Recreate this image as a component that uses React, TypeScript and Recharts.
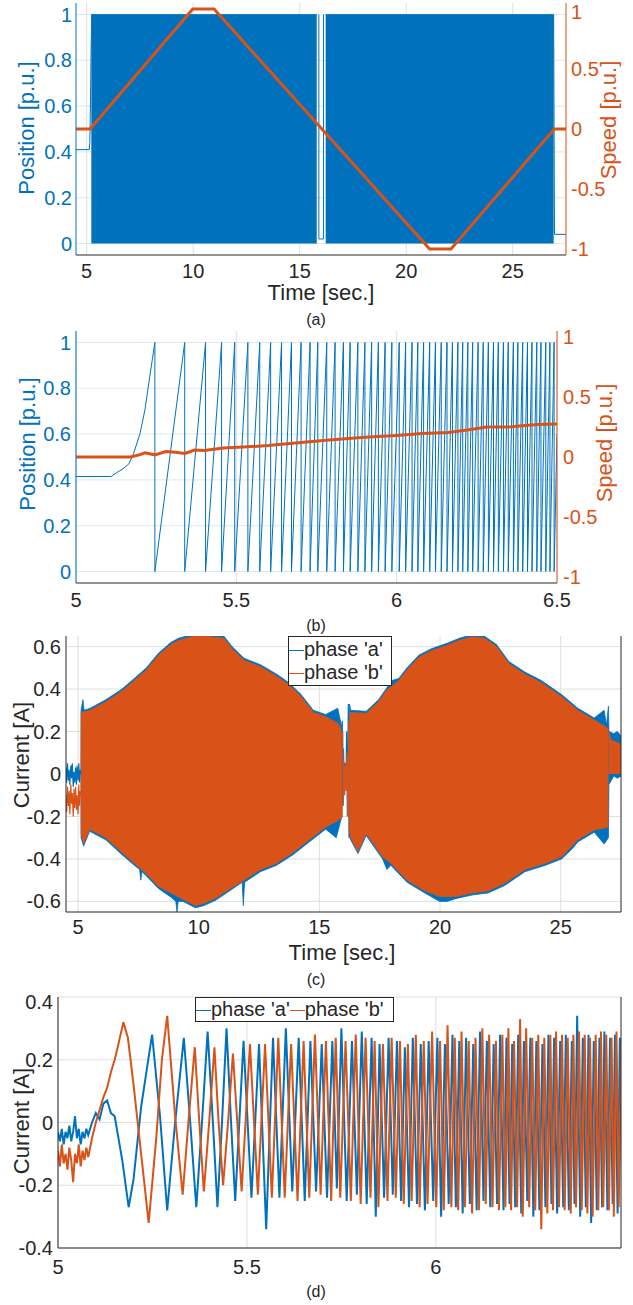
import React from 'react';
import { ComposedChart, Line, Area, XAxis, YAxis, CartesianGrid } from 'recharts';

type Pt = [number, number];

const BLUE = '#0072BD';
const ORANGE = '#D95319';
const INK = '#262626';
const GRID = '#dfdfdf';
const GRID_BLUE = '#d9eaf5';
const FONT = '"Liberation Sans", Arial, Helvetica, sans-serif';

// ticks
const timeTicks = [5, 10, 15, 20, 25];
const zoomTicksB = [5, 5.5, 6, 6.5];
const zoomTicksD = [5, 5.5, 6];
const posTicks = [0, 0.2, 0.4, 0.6, 0.8, 1];
const speedTicks = [-1, -0.5, 0, 0.5, 1];
const curTicksC = [-0.6, -0.4, -0.2, 0, 0.2, 0.4, 0.6];
const curTicksD = [-0.4, -0.2, 0, 0.2, 0.4];

// (a) whole run: speed reference and position (band = fast sawtooth 0..1)
const aSpeed: Pt[] = [[4.5, 0], [5.16, 0], [9.98, 1], [10.98, 1], [16.04, 0], [21.1, -1], [22.1, -1], [26.95, 0], [27.5, 0]];
const aPosPre: Pt[] = [[4.5, 0.41], [5.12, 0.41], [5.15, 0.44], [5.18, 0.62], [5.21, 0.85], [5.24, 1]];
const aBand1: Pt[] = [[5.22, 1], [15.8, 1]];
const aGap: Pt[] = [[15.9, 1], [15.9, 0.02], [16.12, 0.02], [16.12, 1]];
const aBand2: Pt[] = [[16.22, 1], [26.92, 1]];
const aPosPost: Pt[] = [[26.92, 1], [26.96, 0.04], [27.5, 0.04]];

// (b) start-up zoom
const bPosPre: Pt[] = [[5.0, 0.415], [5.11, 0.415], [5.125, 0.43], [5.145, 0.447], [5.165, 0.47], [5.18, 0.517], [5.2, 0.604], [5.215, 0.706], [5.23, 0.851], [5.246, 1]];
const bDropT = [5.246, 5.339, 5.404, 5.454, 5.495, 5.536, 5.573, 5.607, 5.641, 5.672, 5.702, 5.73, 5.754, 5.782, 5.808, 5.834, 5.855, 5.879, 5.901, 5.922, 5.943, 5.964, 5.985, 6.008, 6.028, 6.048, 6.066, 6.084, 6.103, 6.121, 6.139, 6.157, 6.174, 6.191, 6.206, 6.222, 6.237, 6.254, 6.27, 6.286, 6.302, 6.317, 6.333, 6.348, 6.364, 6.378, 6.393, 6.408, 6.422, 6.437, 6.45, 6.465, 6.478, 6.491];
const bPosEnd: Pt[] = [[6.5, 0.6]];
const bSpeed: Pt[] = [[5.0, 0], [5.17, 0], [5.2, 0.02], [5.215, 0.035], [5.246, 0.018], [5.28, 0.045], [5.31, 0.04], [5.34, 0.03], [5.37, 0.058], [5.4, 0.055], [5.46, 0.075], [5.52, 0.083], [5.6, 0.095], [5.65, 0.108], [5.72, 0.125], [5.78, 0.14], [5.85, 0.155], [5.9, 0.165], [6.0, 0.18], [6.08, 0.195], [6.16, 0.205], [6.22, 0.225], [6.28, 0.25], [6.35, 0.25], [6.4, 0.262], [6.44, 0.27], [6.5, 0.275]];

// (c) phase currents, whole run (envelopes)
const cAPre: Pt[] = [[4.5, 0.03], [4.53, -0.04], [4.56, 0.05], [4.6, -0.03], [4.63, 0.02], [4.66, -0.05], [4.7, 0.04], [4.73, -0.02], [4.76, 0.05], [4.8, -0.06], [4.83, 0.01], [4.86, -0.04], [4.9, 0.03], [4.93, -0.05], [4.96, 0.04], [5.0, -0.03], [5.03, 0.05], [5.06, -0.04], [5.09, 0.02], [5.12, 0.0]];
const cAU1: Pt[] = [[5.12, 0], [5.125, 0.3], [5.2, 0.35], [5.25, 0.3], [5.5, 0.31], [6.15, 0.35], [6.82, 0.4], [7.33, 0.45], [7.83, 0.5], [8.34, 0.57], [8.85, 0.62], [9.18, 0.64], [9.69, 0.655], [10.2, 0.665], [10.53, 0.655], [11.04, 0.65], [11.38, 0.6], [11.88, 0.545], [12.56, 0.515], [13.23, 0.47], [13.74, 0.43], [14.24, 0.375], [14.75, 0.3], [15.26, 0.28], [15.6, 0.3], [15.76, 0.31], [15.93, 0.22]];
const cAL1: Pt[] = [[5.12, 0], [5.125, -0.3], [5.23, -0.34], [5.48, -0.27], [6.15, -0.31], [6.82, -0.38], [7.33, -0.43], [7.55, -0.45], [7.6, -0.5], [7.65, -0.46], [7.83, -0.48], [8.34, -0.54], [8.85, -0.58], [9.05, -0.6], [9.1, -0.65], [9.15, -0.6], [9.35, -0.6], [9.86, -0.63], [10.2, -0.62], [10.7, -0.595], [11.21, -0.556], [11.8, -0.51], [11.85, -0.62], [11.9, -0.51], [12.56, -0.46], [13.23, -0.43], [13.91, -0.38], [14.58, -0.32], [15.26, -0.26], [15.7, -0.3], [15.93, -0.2]];
const cAPinch: Pt[] = [[15.93, 0.2], [15.95, 0.25], [15.97, -0.15], [16.0, 0.12], [16.03, -0.1], [16.06, 0.05], [16.1, -0.05], [16.13, 0.2], [16.16, -0.2], [16.2, 0.33], [16.23, -0.3]];
const cAU2: Pt[] = [[16.24, 0], [16.25, 0.33], [16.3, 0.3], [16.94, 0.295], [17.45, 0.35], [17.79, 0.405], [18.0, 0.44], [18.29, 0.45], [18.63, 0.5], [19.13, 0.56], [19.64, 0.59], [20.32, 0.617], [20.82, 0.64], [21.33, 0.656], [21.83, 0.65], [22.34, 0.61], [22.85, 0.53], [23.52, 0.48], [24.2, 0.44], [25.04, 0.374], [25.71, 0.31], [26.39, 0.264], [26.8, 0.3], [26.9, 0.23], [26.98, 0.32], [27.0, 0.2]];
const cAL2: Pt[] = [[16.24, 0], [16.25, -0.3], [16.6, -0.375], [16.94, -0.29], [17.62, -0.4], [17.8, -0.45], [17.96, -0.43], [18.63, -0.51], [19.3, -0.556], [19.98, -0.6], [20.3, -0.6], [20.65, -0.587], [21.33, -0.57], [22.0, -0.56], [22.68, -0.525], [23.52, -0.46], [24.37, -0.43], [25.04, -0.4], [25.5, -0.35], [25.71, -0.32], [26.39, -0.274], [26.8, -0.33], [26.98, -0.3], [27.0, -0.05]];
const cAUp: Pt[] = [[27.0, 0.2], [27.2, 0.19], [27.35, 0.2], [27.5, 0.18]];
const cALp: Pt[] = [[27.0, -0.05], [27.2, -0.01], [27.35, -0.02], [27.5, -0.01]];

const cBPre: Pt[] = [[4.5, -0.1], [4.53, -0.18], [4.56, -0.06], [4.6, -0.15], [4.63, -0.08], [4.66, -0.19], [4.7, -0.05], [4.73, -0.14], [4.76, -0.09], [4.8, -0.2], [4.83, -0.07], [4.86, -0.16], [4.9, -0.06], [4.93, -0.17], [4.96, -0.1], [5.0, -0.19], [5.03, -0.05], [5.06, -0.15], [5.09, -0.08], [5.12, -0.1]];
const cBU1: Pt[] = [[5.12, 0], [5.13, 0.29], [5.5, 0.3], [6.15, 0.34], [6.82, 0.39], [7.33, 0.44], [7.83, 0.49], [8.34, 0.56], [8.85, 0.61], [9.18, 0.63], [9.69, 0.645], [10.2, 0.655], [10.53, 0.645], [11.04, 0.64], [11.38, 0.59], [11.88, 0.535], [12.56, 0.505], [13.23, 0.46], [13.74, 0.42], [14.24, 0.365], [14.75, 0.29], [15.26, 0.27], [15.76, 0.24], [15.97, 0.2]];
const cBL1: Pt[] = [[5.12, 0], [5.13, -0.28], [5.23, -0.33], [5.48, -0.26], [6.15, -0.3], [6.82, -0.37], [7.33, -0.42], [7.83, -0.47], [8.34, -0.53], [8.85, -0.56], [9.35, -0.59], [9.86, -0.62], [10.2, -0.61], [10.7, -0.585], [11.21, -0.546], [11.88, -0.5], [12.56, -0.45], [13.23, -0.42], [13.91, -0.37], [14.58, -0.31], [15.26, -0.25], [15.76, -0.22], [15.97, -0.2]];
const cBPinch: Pt[] = [[15.97, 0.2], [15.99, -0.15], [16.02, 0.06], [16.05, -0.1], [16.08, 0.04], [16.11, -0.08], [16.14, 0.1], [16.18, -0.2], [16.22, 0.25], [16.24, -0.28]];
const cBU2: Pt[] = [[16.24, 0], [16.27, 0.29], [16.94, 0.285], [17.45, 0.34], [17.79, 0.395], [18.29, 0.44], [18.63, 0.49], [19.13, 0.55], [19.64, 0.58], [20.32, 0.607], [20.82, 0.63], [21.33, 0.646], [21.83, 0.64], [22.34, 0.6], [22.85, 0.52], [23.52, 0.47], [24.2, 0.43], [25.04, 0.364], [25.71, 0.3], [26.39, 0.254], [26.9, 0.22], [26.98, 0.207]];
const cBL2: Pt[] = [[16.24, 0], [16.27, -0.295], [16.6, -0.365], [16.94, -0.28], [17.62, -0.39], [17.96, -0.42], [18.63, -0.5], [19.3, -0.546], [19.98, -0.577], [20.65, -0.577], [21.33, -0.56], [22.0, -0.55], [22.68, -0.515], [23.52, -0.45], [24.37, -0.42], [25.04, -0.39], [25.71, -0.31], [26.39, -0.264], [26.98, -0.25]];
const cBUp: Pt[] = [[26.99, 0.2], [27.1, 0.16], [27.3, 0.15], [27.5, 0.14]];

// (d) phase currents, start-up zoom (peaks and troughs)
const dPhaseA: Pt[] = [
  [5.0, -0.03], [5.005, -0.06], [5.01, -0.02], [5.015, -0.07], [5.02, -0.03], [5.025, -0.05], [5.03, -0.01], [5.035, -0.06], [5.04, -0.03], [5.045, 0.02],
  [5.05, -0.05], [5.055, -0.02], [5.06, -0.07], [5.065, -0.03], [5.07, -0.05], [5.075, -0.02], [5.08, -0.04],
  [5.09, 0.0], [5.1, 0.03], [5.11, 0.01], [5.12, 0.06], [5.13, 0.07], [5.14, 0.03], [5.15, 0.02], [5.16, -0.05], [5.17, -0.12], [5.187, -0.27],
  [5.2, -0.18], [5.22, 0.05], [5.249, 0.28], [5.27, 0.02], [5.289, -0.28], [5.31, 0.0], [5.333, 0.27], [5.35, 0.0], [5.366, -0.27], [5.381, 0.0],
  [5.396, 0.29], [5.41, 0.0], [5.422, -0.27], [5.434, 0.0], [5.446, 0.3], [5.458, 0.0], [5.469, -0.25], [5.491, 0.26], [5.512, -0.24],
  [5.532, 0.25], [5.551, -0.34], [5.569, 0.27], [5.586, -0.24], [5.603, 0.3], [5.62, -0.22], [5.637, 0.27], [5.653, -0.25], [5.668, 0.26], [5.683, -0.22],
  [5.698, 0.25], [5.712, -0.24], [5.726, 0.26], [5.738, -0.21], [5.75, 0.3], [5.764, -0.25], [5.778, 0.26], [5.791, -0.23], [5.804, 0.29], [5.817, -0.26],
  [5.83, 0.27], [5.841, -0.3], [5.851, 0.25], [5.863, -0.24], [5.875, 0.27], [5.886, -0.23], [5.897, 0.26], [5.908, -0.25], [5.918, 0.24], [5.929, -0.27],
  [5.939, 0.27], [5.95, -0.26], [5.96, 0.25], [5.971, -0.28], [5.981, 0.26], [5.993, -0.25], [6.004, 0.27], [6.014, -0.3], [6.024, 0.25], [6.034, -0.26],
  [6.044, 0.28], [6.053, -0.27], [6.062, 0.26], [6.071, -0.29], [6.08, 0.27], [6.09, -0.26], [6.099, 0.25], [6.108, -0.28], [6.117, 0.29], [6.126, -0.25],
  [6.135, 0.26], [6.144, -0.27], [6.153, 0.25], [6.162, -0.26], [6.17, 0.28], [6.179, -0.28], [6.187, 0.27], [6.195, -0.26], [6.202, 0.25], [6.21, -0.27],
  [6.218, 0.28], [6.226, -0.29], [6.233, 0.26], [6.242, -0.25], [6.25, 0.27], [6.258, -0.3], [6.266, 0.26], [6.274, -0.28], [6.282, 0.25], [6.29, -0.27],
  [6.298, 0.28], [6.306, -0.26], [6.313, 0.27], [6.321, -0.29], [6.329, 0.26], [6.337, -0.27], [6.344, 0.28], [6.352, -0.28], [6.36, 0.26], [6.367, -0.26],
  [6.374, 0.34], [6.382, -0.3], [6.389, 0.27], [6.397, -0.27], [6.404, 0.28], [6.411, -0.32], [6.418, 0.26], [6.426, -0.28], [6.433, 0.27], [6.44, -0.27],
  [6.446, 0.29], [6.454, -0.28], [6.461, 0.27], [6.468, -0.26], [6.474, 0.28], [6.481, -0.29], [6.487, 0.27], [6.494, -0.26],
];
const dPhaseB: Pt[] = [
  [5.0, -0.09], [5.005, -0.14], [5.01, -0.07], [5.015, -0.13], [5.02, -0.1], [5.025, -0.15], [5.03, -0.08], [5.035, -0.12], [5.04, -0.19], [5.045, -0.1],
  [5.05, -0.13], [5.055, -0.07], [5.06, -0.14], [5.065, -0.09], [5.07, -0.12], [5.075, -0.08], [5.08, -0.11],
  [5.09, -0.05], [5.1, 0.0], [5.11, 0.04], [5.12, 0.08], [5.13, 0.11], [5.14, 0.16], [5.15, 0.2], [5.16, 0.25], [5.173, 0.32], [5.185, 0.27],
  [5.2, 0.12], [5.22, -0.1], [5.24, -0.32], [5.26, -0.05], [5.275, 0.2], [5.289, 0.34], [5.31, 0.02], [5.33, -0.23], [5.345, 0.0], [5.362, 0.24],
  [5.374, 0.0], [5.386, -0.22], [5.4, 0.0], [5.414, 0.24], [5.425, 0.0], [5.437, -0.2], [5.45, 0.0], [5.463, 0.22], [5.486, -0.22], [5.508, 0.25],
  [5.529, -0.23], [5.548, 0.25], [5.566, -0.24], [5.583, 0.27], [5.6, -0.24], [5.617, 0.25], [5.634, -0.25], [5.65, 0.26], [5.665, -0.24], [5.68, 0.28],
  [5.695, -0.23], [5.709, 0.26], [5.723, -0.25], [5.735, 0.27], [5.747, -0.24], [5.761, 0.26], [5.775, -0.25], [5.788, 0.28], [5.801, -0.26], [5.814, 0.27],
  [5.827, -0.24], [5.838, 0.26], [5.848, -0.27], [5.86, 0.25], [5.872, -0.25], [5.883, 0.27], [5.894, -0.24], [5.905, 0.26], [5.915, -0.26], [5.926, 0.25],
  [5.936, -0.25], [5.947, 0.28], [5.957, -0.27], [5.968, 0.26], [5.978, -0.26], [5.99, 0.29], [6.001, -0.27], [6.011, 0.26], [6.021, -0.28], [6.031, 0.31],
  [6.041, -0.27], [6.05, 0.27], [6.059, -0.28], [6.068, 0.29], [6.077, -0.27], [6.087, 0.26], [6.096, -0.29], [6.105, 0.27], [6.114, -0.28], [6.123, 0.3],
  [6.132, -0.26], [6.141, 0.28], [6.15, -0.27], [6.159, 0.26], [6.167, -0.28], [6.176, 0.28], [6.184, -0.27], [6.192, 0.3], [6.199, -0.28], [6.207, 0.26],
  [6.215, -0.27], [6.223, 0.33], [6.23, -0.3], [6.239, 0.3], [6.247, -0.27], [6.255, 0.27], [6.263, -0.28], [6.271, 0.28], [6.279, -0.34], [6.287, 0.27],
  [6.295, -0.29], [6.303, 0.28], [6.31, -0.28], [6.318, 0.29], [6.326, -0.27], [6.334, 0.28], [6.341, -0.28], [6.349, 0.27], [6.357, -0.29], [6.364, 0.28],
  [6.371, -0.27], [6.379, 0.29], [6.386, -0.28], [6.394, 0.28], [6.401, -0.29], [6.408, 0.27], [6.415, -0.3], [6.423, 0.28], [6.43, -0.28], [6.437, 0.29],
  [6.443, -0.27], [6.451, 0.28], [6.458, -0.28], [6.465, 0.27], [6.471, -0.3], [6.478, 0.29], [6.484, -0.27], [6.491, 0.26], [6.5, -0.1],
];

type Row = { t: number; [k: string]: number };
const pairs = (key: string, pts: Pt[]): Row[] => pts.map(([t, v]) => ({ t, [key]: v }));
const merge = (...parts: Row[][]): Row[] => parts.flat().sort((p, q) => p.t - q.t);

// sawtooth built from the read drop times
const bPos: Pt[] = [...bPosPre, ...bDropT.flatMap((t): Pt[] => [[t, 1], [t, 0]]), ...bPosEnd];

const aData = merge(
  pairs('spd', aSpeed), pairs('pre', aPosPre), pairs('band1', aBand1),
  pairs('gap', aGap), pairs('band2', aBand2), pairs('post', aPosPost),
);
const bData = merge(pairs('pos', bPos), pairs('spd', bSpeed));
const cData = merge(
  pairs('aPre', cAPre), pairs('aU1', cAU1), pairs('aL1', cAL1), pairs('aPinch', cAPinch),
  pairs('aU2', cAU2), pairs('aL2', cAL2), pairs('aUp', cAUp), pairs('aLp', cALp),
  pairs('bPre', cBPre), pairs('bU1', cBU1), pairs('bL1', cBL1), pairs('bPinch', cBPinch),
  pairs('bU2', cBU2), pairs('bL2', cBL2), pairs('bUp', cBUp),
);
const dData = merge(pairs('a', dPhaseA), pairs('b', dPhaseB));

const tickStyle = (fill: string) => ({ fill, fontSize: 20, fontFamily: FONT });

const Txt = ({ x, y, size, color = INK, rot = false, children }: any) => (
  <div
    style={{
      position: 'absolute', left: x, top: y, fontFamily: FONT, fontSize: size, color,
      whiteSpace: 'nowrap', lineHeight: 1,
      transform: `translate(-50%, -50%)${rot ? ' rotate(-90deg)' : ''}`,
    }}
  >
    {children}
  </div>
);

const Swatch = ({ color }: { color: string }) => (
  <span style={{ display: 'inline-block', width: 15, height: 0, borderTop: `1.5px solid ${color}`, verticalAlign: 'middle' }} />
);

const band = (key: string, color: string, yAxisId: any = 0) => (
  <Area
    key={key}
    yAxisId={yAxisId}
    type="linear"
    dataKey={key}
    baseValue={0}
    stroke={color}
    strokeWidth={0.8}
    fill={color}
    fillOpacity={1}
    connectNulls
    dot={false}
    activeDot={false}
    isAnimationActive={false}
  />
);

const line = (key: string, color: string, width: number, yAxisId: any = 0) => (
  <Line
    key={key}
    yAxisId={yAxisId}
    type="linear"
    dataKey={key}
    stroke={color}
    strokeWidth={width}
    connectNulls
    dot={false}
    activeDot={false}
    isAnimationActive={false}
  />
);

export default function App() {
  return (
    <div style={{ position: 'absolute', left: 0, top: 0, width: 633, height: 1305, background: '#fff', overflow: 'hidden' }}>
      {/* (a) */}
      <div style={{ position: 'absolute', left: 0, top: 0 }}>
        <ComposedChart width={633} height={300} data={aData} margin={{ top: 3, right: 0, bottom: 0, left: 0 }}>
          <CartesianGrid yAxisId="L" vertical={false} stroke={GRID_BLUE} horizontalValues={posTicks} />
          <CartesianGrid yAxisId="L" horizontal={false} stroke={GRID} verticalValues={timeTicks} />
          <XAxis dataKey="t" type="number" domain={[4.5, 27.5]} ticks={timeTicks} allowDataOverflow height={45}
            tickSize={0} tickMargin={9} stroke={INK} tick={tickStyle(INK)} />
          <XAxis xAxisId="top" orientation="top" dataKey="t" type="number" domain={[4.5, 27.5]} allowDataOverflow height={0} tick={false} stroke={INK} />
          <YAxis yAxisId="L" type="number" domain={[-0.05, 1.05]} ticks={posTicks} allowDataOverflow width={76}
            tickSize={0} tickMargin={4} stroke={BLUE} tick={tickStyle(BLUE)} />
          <YAxis yAxisId="R" orientation="right" type="number" domain={[-1.05, 1.05]} ticks={speedTicks} allowDataOverflow width={67}
            tickSize={0} tickMargin={5} stroke={ORANGE} tick={tickStyle(ORANGE)} />
          {band('band1', BLUE, 'L')}
          {band('band2', BLUE, 'L')}
          {line('gap', BLUE, 1, 'L')}
          {line('pre', BLUE, 1, 'L')}
          {line('post', BLUE, 1, 'L')}
          {line('spd', ORANGE, 3, 'R')}
        </ComposedChart>
      </div>
      <Txt x={27} y={128} size={22} color={BLUE} rot>Position [p.u.]</Txt>
      <Txt x={609} y={120} size={22} color={ORANGE} rot>Speed [p.u.]</Txt>
      <Txt x={321} y={293} size={22}>Time [sec.]</Txt>
      <Txt x={316} y={320} size={16}>(a)</Txt>

      {/* (b) */}
      <div style={{ position: 'absolute', left: 0, top: 320 }}>
        <ComposedChart width={633} height={300} data={bData} margin={{ top: 11, right: 0, bottom: 0, left: 0 }}>
          <CartesianGrid yAxisId="L" vertical={false} stroke={GRID_BLUE} horizontalValues={posTicks} />
          <CartesianGrid yAxisId="L" horizontal={false} stroke={GRID} verticalValues={zoomTicksB} />
          <XAxis dataKey="t" type="number" domain={[5, 6.5]} ticks={zoomTicksB} allowDataOverflow height={37}
            tickSize={0} tickMargin={10} stroke={INK} tick={tickStyle(INK)} />
          <XAxis xAxisId="top" orientation="top" dataKey="t" type="number" domain={[5, 6.5]} allowDataOverflow height={0} tick={false} stroke={INK} />
          <YAxis yAxisId="L" type="number" domain={[-0.05, 1.05]} ticks={posTicks} allowDataOverflow width={76}
            tickSize={0} tickMargin={5} stroke={BLUE} tick={tickStyle(BLUE)} />
          <YAxis yAxisId="R" orientation="right" type="number" domain={[-1.05, 1.05]} ticks={speedTicks} allowDataOverflow width={76}
            tickSize={0} tickMargin={6} stroke={ORANGE} tick={tickStyle(ORANGE)} />
          {line('pos', BLUE, 1, 'L')}
          {line('spd', ORANGE, 3, 'R')}
        </ComposedChart>
      </div>
      <Txt x={28} y={444} size={22} color={BLUE} rot>Position [p.u.]</Txt>
      <Txt x={605} y={443} size={22} color={ORANGE} rot>Speed [p.u.]</Txt>
      <Txt x={316} y={626} size={16}>(b)</Txt>

      {/* (c) */}
      <div style={{ position: 'absolute', left: 0, top: 630 }}>
        <ComposedChart width={633} height={330} data={cData} margin={{ top: 6, right: 0, bottom: 0, left: 0 }}>
          <CartesianGrid stroke={GRID} horizontalValues={curTicksC} verticalValues={timeTicks} />
          <XAxis dataKey="t" type="number" domain={[4.5, 27.5]} ticks={timeTicks} allowDataOverflow height={48}
            tickSize={0} tickMargin={8} stroke={INK} tick={tickStyle(INK)} />
          <XAxis xAxisId="top" orientation="top" dataKey="t" type="number" domain={[4.5, 27.5]} allowDataOverflow height={0} tick={false} stroke={INK} />
          <YAxis type="number" domain={[-0.65, 0.65]} ticks={curTicksC} allowDataOverflow width={66}
            tickSize={0} tickMargin={5} stroke={INK} tick={tickStyle(INK)} />
          <YAxis yAxisId="box" orientation="right" type="number" domain={[-0.65, 0.65]} allowDataOverflow width={12} tick={false} stroke={INK} />
          {band('aU1', BLUE)}
          {band('aL1', BLUE)}
          {band('aU2', BLUE)}
          {band('aL2', BLUE)}
          {band('aUp', BLUE)}
          {band('aLp', BLUE)}
          {line('aPre', BLUE, 1.2)}
          {line('aPinch', BLUE, 1.2)}
          {band('bU1', ORANGE)}
          {band('bL1', ORANGE)}
          {band('bU2', ORANGE)}
          {band('bL2', ORANGE)}
          {band('bUp', ORANGE)}
          {line('bPre', ORANGE, 1.2)}
          {line('bPinch', ORANGE, 1.2)}
        </ComposedChart>
      </div>
      <div style={{ position: 'absolute', left: 288, top: 636, width: 104, height: 50, boxSizing: 'border-box', border: `1px solid ${INK}`, background: '#fff', fontFamily: FONT, fontSize: 20, color: INK, lineHeight: '23px', paddingTop: 1 }}>
        <div style={{ whiteSpace: 'nowrap' }}><Swatch color={BLUE} />phase 'a'</div>
        <div style={{ whiteSpace: 'nowrap' }}><Swatch color={ORANGE} />phase 'b'</div>
      </div>
      <Txt x={22} y={755} size={22} rot>Current [A]</Txt>
      <Txt x={342} y={953} size={22}>Time [sec.]</Txt>
      <Txt x={316} y={980} size={16}>(c)</Txt>

      {/* (d) */}
      <div style={{ position: 'absolute', left: 0, top: 990 }}>
        <ComposedChart width={633} height={300} data={dData} margin={{ top: 7, right: 0, bottom: 0, left: 0 }}>
          <CartesianGrid stroke={GRID} horizontalValues={curTicksD} verticalValues={zoomTicksD} />
          <XAxis dataKey="t" type="number" domain={[5, 6.49]} ticks={zoomTicksD} allowDataOverflow height={42}
            tickSize={0} tickMargin={12} stroke={INK} tick={tickStyle(INK)} />
          <XAxis xAxisId="top" orientation="top" dataKey="t" type="number" domain={[5, 6.49]} allowDataOverflow height={0} tick={false} stroke={INK} />
          <YAxis type="number" domain={[-0.4, 0.4]} ticks={curTicksD} allowDataOverflow width={58}
            tickSize={0} tickMargin={5} stroke={INK} tick={tickStyle(INK)} />
          <YAxis yAxisId="box" orientation="right" type="number" domain={[-0.4, 0.4]} allowDataOverflow width={12} tick={false} stroke={INK} />
          {line('a', BLUE, 2)}
          {line('b', ORANGE, 2)}
        </ComposedChart>
      </div>
      <div style={{ position: 'absolute', left: 195, top: 997, width: 199, height: 25, boxSizing: 'border-box', border: `1px solid ${INK}`, background: '#fff', fontFamily: FONT, fontSize: 20, color: INK, lineHeight: '23px', whiteSpace: 'nowrap' }}>
        <Swatch color={BLUE} />phase 'a'<Swatch color={ORANGE} />phase 'b'
      </div>
      <Txt x={22} y={1121} size={22} rot>Current [A]</Txt>
      <Txt x={316} y={1292} size={16}>(d)</Txt>
    </div>
  );
}
